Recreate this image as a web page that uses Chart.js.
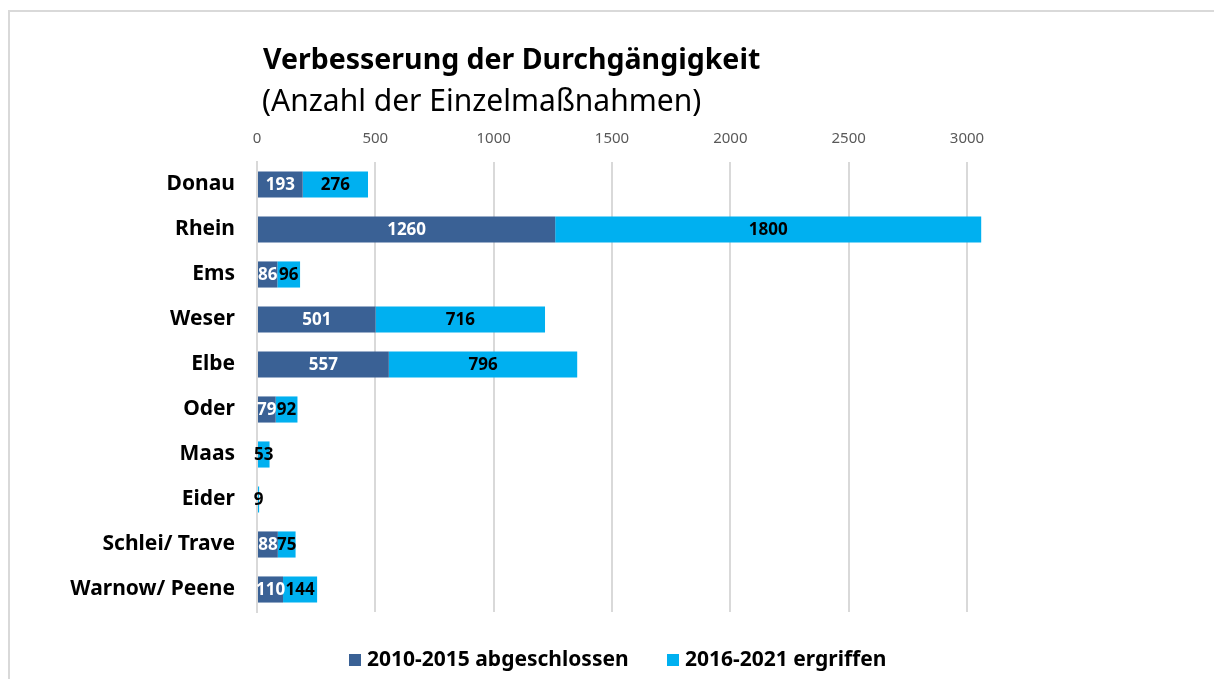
<!DOCTYPE html>
<html>
<head>
<meta charset="utf-8">
<script src="https://cdn.jsdelivr.net/npm/chart.js@4"></script>
<style>
  html, body { margin: 0; padding: 0; background: #fff; overflow: hidden; }
  #wrap { position: relative; width: 1214px; height: 679px; }
  #frame { position: absolute; left: 8px; top: 10px; width: 1300px; height: 800px;
           border-left: 2px solid #d9d9d9; border-top: 2px solid #d9d9d9; }
  canvas { position: absolute; left: 0; top: 0; }
</style>
</head>
<body>
<div id="wrap">
  <div id="frame"></div>
  <canvas id="chart" width="1214" height="679"></canvas>
</div>
<script>
// Flussgebiete und Anzahl der Einzelmaßnahmen
const rivers = ['Donau', 'Rhein', 'Ems', 'Weser', 'Elbe', 'Oder', 'Maas', 'Eider', 'Schlei/ Trave', 'Warnow/ Peene'];
const done2010 = [193, 1260, 86, 501, 557, 79, 0, 0, 88, 110];
const started2016 = [276, 1800, 96, 716, 796, 92, 53, 9, 75, 144];
const seriesNames = ['2010-2015 abgeschlossen', '2016-2021 ergriffen'];
const xTicks = [0, 500, 1000, 1500, 2000, 2500, 3000];

const DARK = '#3a6195';
const LIGHT = '#00b0f0';
const FONT = '"Noto Sans", "Open Sans", sans-serif';

// Titel + Untertitel
const titlePlugin = {
  id: 'titleText',
  afterDraw(chart) {
    const ctx = chart.ctx;
    ctx.save();
    ctx.fillStyle = '#000';
    ctx.textBaseline = 'middle';
    ctx.textAlign = 'left';
    ctx.font = 'bold 28.5px ' + FONT;
    ctx.fillText('Verbesserung der Durchgängigkeit', 263, 61);
    ctx.font = '30px ' + FONT;
    ctx.fillText('(Anzahl der Einzelmaßnahmen)', 262, 102);
    ctx.restore();
  },
};

// Werte in die Balken schreiben
const labelPlugin = {
  id: 'barLabels',
  afterDatasetsDraw(chart) {
    const ctx = chart.ctx;
    ctx.save();
    ctx.font = 'bold 17px ' + FONT;
    ctx.textAlign = 'center';
    ctx.textBaseline = 'middle';
    chart.data.datasets.forEach((ds, i) => {
      const meta = chart.getDatasetMeta(i);
      meta.data.forEach((bar, j) => {
        const v = ds.data[j];
        if (!v) return;
        ctx.fillStyle = i === 0 ? '#fff' : '#000';
        ctx.fillText(String(v), (bar.x + bar.base) / 2, bar.y + 1);
      });
    });
    ctx.restore();
  },
};

// Legende unten
const legendPlugin = {
  id: 'bottomLegend',
  afterDraw(chart) {
    const ctx = chart.ctx;
    const y = 660;
    ctx.save();
    ctx.font = 'bold 21px ' + FONT;
    ctx.textBaseline = 'middle';
    ctx.textAlign = 'left';
    const items = [
      { x: 349, color: DARK, text: seriesNames[0] },
      { x: 667, color: LIGHT, text: seriesNames[1] },
    ];
    items.forEach(it => {
      ctx.fillStyle = it.color;
      ctx.fillRect(it.x, y - 6, 12, 12);
      ctx.fillStyle = '#000';
      ctx.fillText(it.text, it.x + 18, y);
    });
    ctx.restore();
  },
};

new Chart(document.getElementById('chart'), {
  type: 'bar',
  data: {
    labels: rivers,
    datasets: [
      { label: seriesNames[0], data: done2010, backgroundColor: DARK, clip: false },
      { label: seriesNames[1], data: started2016, backgroundColor: LIGHT, clip: false },
    ],
  },
  options: {
    indexAxis: 'y',
    responsive: false,
    animation: false,
    barPercentage: 0.58,
    categoryPercentage: 1,
    layout: { padding: { left: 0, right: 247, top: 120, bottom: 67 } },
    plugins: {
      legend: { display: false },
      title: { display: false },
      tooltip: { enabled: false },
    },
    scales: {
      x: {
        position: 'top',
        stacked: true,
        min: 0, max: 3000,
        border: { display: false },
        grid: { color: '#d9d9d9', lineWidth: 2, drawTicks: false },
        afterBuildTicks(scale) { scale.ticks = xTicks.map(v => ({ value: v })); },
        afterFit(scale) { scale.height = 42; },
        ticks: { color: '#595959', font: { family: FONT, size: 15 }, padding: 14, callback: v => String(v) },
      },
      y: {
        stacked: true,
        border: { display: true, color: '#d9d9d9', width: 2 },
        grid: { display: false, drawTicks: false },
        afterFit(scale) { scale.width = 257; },
        ticks: { color: '#000', font: { family: FONT, size: 21, weight: 'bold' }, padding: 22 },
      },
    },
  },
  plugins: [titlePlugin, labelPlugin, legendPlugin],
});
</script>
</body>
</html>
